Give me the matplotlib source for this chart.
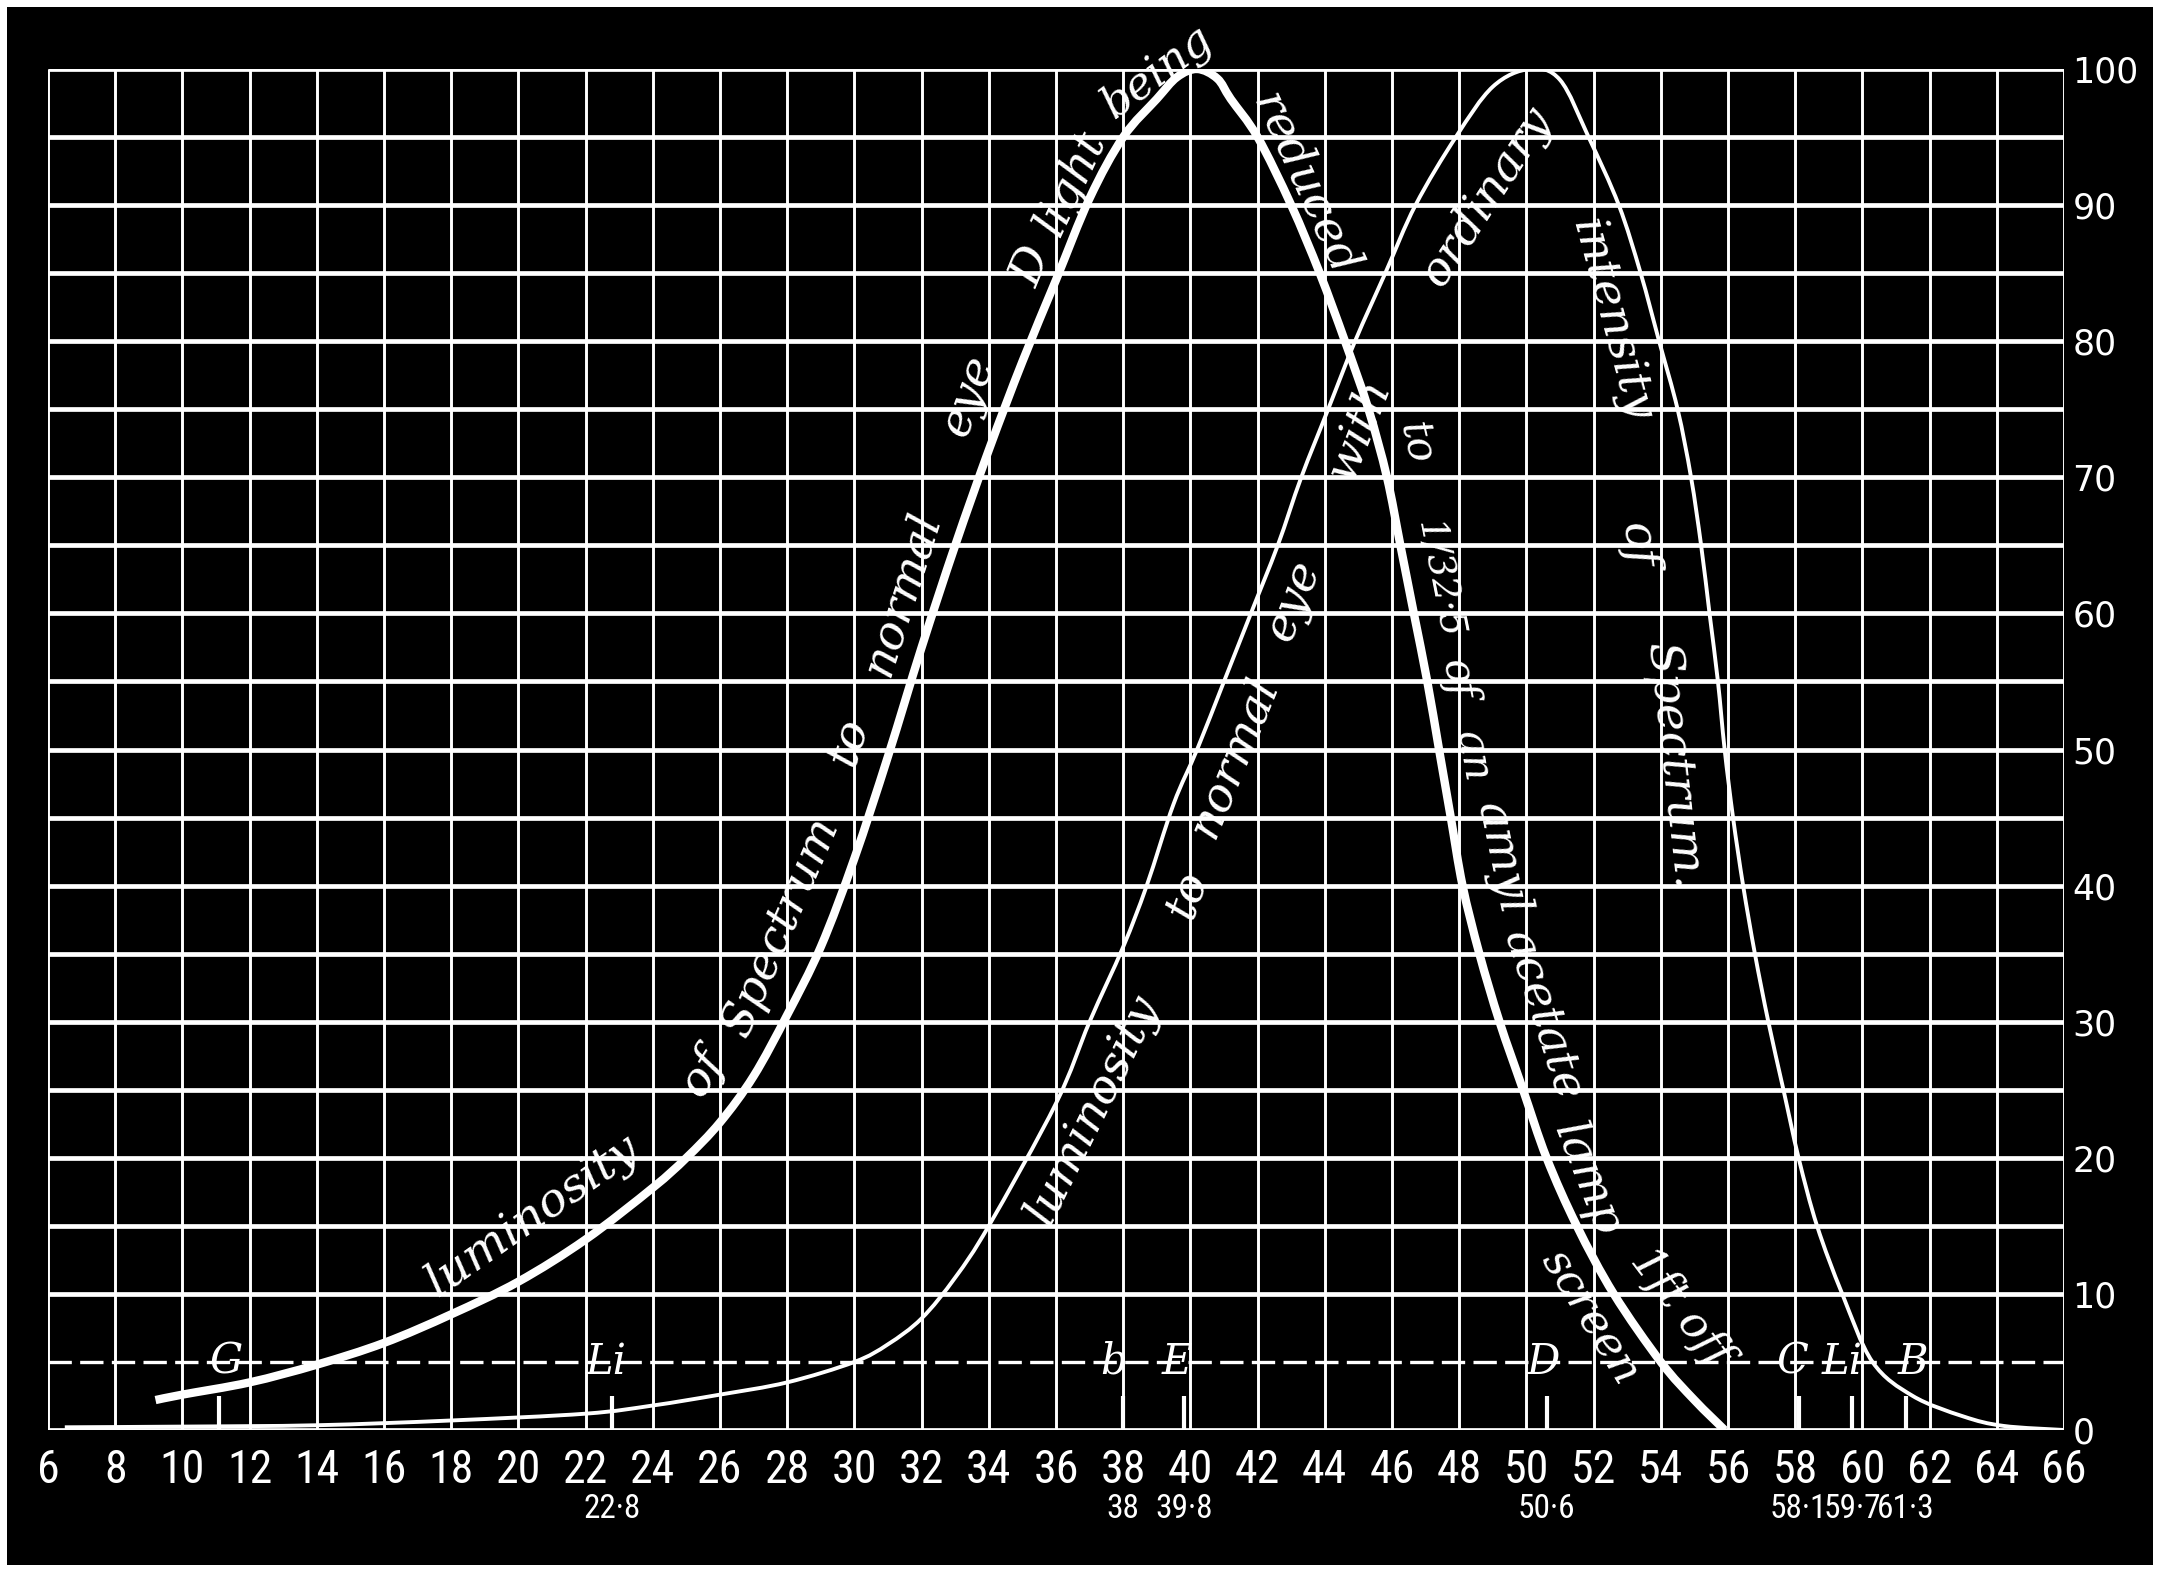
import numpy as np
import matplotlib.pyplot as plt
from matplotlib import font_manager
from matplotlib.patches import Rectangle, PathPatch
from matplotlib.path import Path

# thick curve: luminosity of spectrum to normal eye (D light reduced)
lum_x = [9.2, 10, 12, 14, 16, 18, 20, 22, 24, 25, 26, 27, 28, 29, 30, 31, 32,
         33, 34, 35, 36, 37, 38, 39, 39.6, 40.2, 40.8, 41.2, 42, 43, 43.85, 44.6,
         45.3, 45.85, 46.25, 46.65, 47.05, 47.4, 47.75, 48.1, 48.6, 49.2, 49.9,
         50.6, 51.5, 52.6, 54.0, 55.0, 55.9]
lum_y = [2.2, 2.6, 3.5, 4.8, 6.4, 8.5, 10.9, 14.0, 17.8, 20.0, 22.6, 26.0, 30.5,
         35.5, 42, 49.5, 57.5, 65, 72, 78.5, 84.5, 90.5, 95, 97.8, 99.4, 100,
         99.3, 97.8, 95, 90, 85, 80, 75, 70, 65, 60, 55, 50, 45, 40, 35, 30, 25,
         20, 15, 10, 5, 2.2, 0]

# thin curve: luminosity to normal eye with ordinary intensity of spectrum
int_x = [6.5, 10, 14, 18, 22, 24, 26, 28, 30, 31, 32, 33, 34, 36, 37, 38, 38.7,
         39.5, 40.2, 41, 41.8, 42.6, 43.3, 44.1, 44.9, 45.8, 46.7, 47.9, 49, 50.1,
         51, 51.85, 52.75, 53.4, 53.95, 54.5, 54.9, 55.2, 55.45, 55.7, 55.9,
         56.15, 56.45, 56.8, 57.2, 57.65, 58.1, 58.65, 59.4, 60.3, 61.5, 63.0,
         64.2, 66]
int_y = [0.2, 0.25, 0.35, 0.7, 1.2, 1.8, 2.6, 3.5, 5, 6.3, 8.2, 11.2, 15, 24, 30,
         35.5, 40, 46, 50, 55, 60, 65, 70, 75, 80, 85, 90, 95, 98.7, 100, 99.2,
         95, 90, 85, 80, 75, 70, 65, 60, 55, 50, 45, 40, 35, 30, 25, 20, 15, 10,
         5, 2.5, 1, 0.3, 0]

# spectral lines
line_x = [11.1, 22.8, 38.0, 39.8, 50.6, 58.1, 59.7, 61.3]
line_names = ['G', 'Li', 'b', 'E', 'D', 'C', 'Li', 'B']
name_x = [11.3, 22.6, 37.7, 39.6, 50.5, 57.9, 59.4, 61.5]
wl_pos = [22.8, 38, 39.8, 50.6, 58.1, 59.7, 61.3]
wl_text = ['22·8', '38', '39·8', '50·6', '58·1', '59·7', '61·3']

x_ticks = list(range(6, 67, 2))
y_ticks = list(range(0, 101, 10))

words1 = ['luminosity', 'of', 'Spectrum', 'to', 'normal', 'eye', 'D', 'light',
          'being', 'reduced', 'to', '1/32·5', 'of', 'an', 'amyl', 'acetate',
          'lamp', '1ft off', 'screen']
pos1 = [(20.4, 15.7), (25.5, 26.3), (27.8, 37.0), (29.8, 50.6), (31.4, 61.5),
        (33.4, 76), (35.3, 85.5), (36.45, 91.6), (39.0, 99.8), (43.4, 91.5),
        (46.7, 72.5), (47.4, 62.5), (47.95, 55.2), (48.4, 49.5), (49.25, 42.0),
        (50.5, 30.5), (51.8, 18.5), (54.6, 9.0), (51.9, 8.3)]
size1 = [34, 34, 34, 34, 34, 34, 34, 34, 32, 34, 30, 27, 30, 30, 34, 34, 34, 32, 32]
words2 = ['luminosity', 'to', 'normal', 'eye', 'with', 'ordinary',
          'intensity', 'of', 'Spectrum.']
pos2 = [(37.1, 23.5), (39.9, 39.4), (41.3, 49.5), (43.1, 61), (45.0, 73.5),
        (48.8, 90.7), (52.5, 81.5), (53.3, 65), (54.4, 48.8)]
size2 = [34] * len(words2)

installed = {f.name for f in font_manager.fontManager.ttflist}
num_font = 'DejaVu Sans'
for cand in ['Roboto Condensed', 'Liberation Sans Narrow', 'DejaVu Sans Condensed',
             'Open Sans Condensed', 'Liberation Sans']:
    if cand in installed:
        num_font = cand
        break
narrow = num_font != 'Liberation Sans' and num_font != 'DejaVu Sans'
script_font = 'DejaVu Serif'

fig = plt.figure(figsize=(21.62, 15.73), dpi=100, facecolor='white')
fig.patches.append(Rectangle((7 / 2162, 8 / 1573), 2146 / 2162, 1558 / 1573,
                             transform=fig.transFigure, facecolor='black',
                             edgecolor='none', zorder=-10))
ax = fig.add_axes([48 / 2162, 143 / 1573, 2016 / 2162, 1361 / 1573])
ax.set_zorder(1)
ax.set_facecolor('black')
ax.set_xlim(6, 66)
ax.set_ylim(0, 100)
for s in ax.spines.values():
    s.set_visible(False)

# grid
ax.vlines(np.arange(6, 67, 2), 0, 100, colors='white', linewidth=2.1, zorder=1)
for yv in np.arange(0, 101, 5):
    if yv == 5:
        ax.hlines(yv, 6, 66, colors='white', linewidth=2.4,
                  linestyles=(0, (7, 2.5)), zorder=1)
    else:
        ax.hlines(yv, 6, 66, colors='white', linewidth=3.4, zorder=1)


def smooth_path(xs, ys):
    # catmull-rom through the read points, drawn as bezier segments
    p = np.column_stack([xs, ys]).astype(float)
    ext = np.vstack([p[0], p, p[-1]])
    verts = [p[0]]
    for i in range(len(p) - 1):
        p0, p1, p2, p3 = ext[i], ext[i + 1], ext[i + 2], ext[i + 3]
        verts += [p1 + (p2 - p0) / 6, p2 - (p3 - p1) / 6, p2]
    codes = [Path.MOVETO] + [Path.CURVE4] * (len(verts) - 1)
    return Path(verts, codes)


ax.add_patch(PathPatch(smooth_path(lum_x, lum_y), fill=False, edgecolor='white',
                       linewidth=6.0, capstyle='butt', joinstyle='round', zorder=3))
ax.add_patch(PathPatch(smooth_path(int_x, int_y), fill=False, edgecolor='white',
                       linewidth=2.8, joinstyle='round', zorder=3))

# spectral line marks
ax.vlines(line_x, 0, 2.5, colors='white', linewidth=3, zorder=2)
for nx, nm in zip(name_x, line_names):
    ax.text(nx, 5.0, nm, color='white', fontsize=30, family=script_font,
            style='italic', ha='center', va='center', zorder=4)

# axes labels
ax.set_xticks(x_ticks)
ax.set_xticklabels([str(v) for v in x_ticks])
ax.yaxis.tick_right()
ax.set_yticks(y_ticks)
ax.set_yticklabels([str(v) for v in y_ticks])
ax.tick_params(axis='x', length=0, pad=13, labelsize=33 if narrow else 29,
               labelcolor='white')
ax.tick_params(axis='y', length=0, pad=6, labelsize=25, labelcolor='white')
for lab in ax.get_xticklabels():
    lab.set_family(num_font)
for lab in ax.get_yticklabels():
    lab.set_family('DejaVu Sans')

for p, t in zip(wl_pos, wl_text):
    ax.text(p, -0.058, t, transform=ax.get_xaxis_transform(), color='white',
            fontsize=24 if narrow else 19.5, family=num_font, ha='center',
            va='center')


def place_words(cx, cy, words, centres, sizes):
    pts = ax.transData.transform(np.column_stack([cx, cy]))
    for word, (wx, wy), sz in zip(words, centres, sizes):
        p = ax.transData.transform((wx, wy))
        i = int(np.argmin(np.hypot(*(pts - p).T)))
        a = pts[max(i - 1, 0)]
        b = pts[min(i + 1, len(pts) - 1)]
        dx, dy = b - a
        if dx < 0:
            dx, dy = -dx, -dy
        ang = np.degrees(np.arctan2(dy, dx))
        ax.text(wx, wy, word, rotation=ang, rotation_mode='anchor',
                ha='center', va='center', color='white', fontsize=sz,
                family=script_font, style='italic', zorder=4)


place_words(lum_x, lum_y, words1, pos1, size1)
place_words(int_x, int_y, words2, pos2, size2)

fig.savefig('out.png', dpi=100, facecolor=fig.get_facecolor())
